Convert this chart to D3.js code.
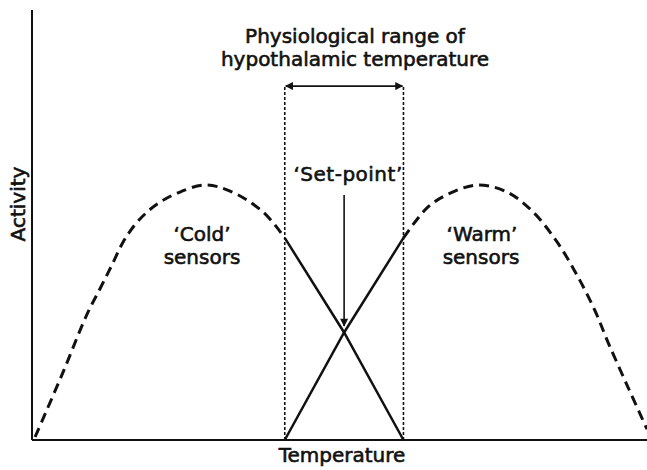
<!DOCTYPE html>
<html>
<head>
<meta charset="utf-8">
<script src="https://cdn.jsdelivr.net/npm/d3@7"></script>
<style>
  body { margin: 0; background: #fff; }
  text { font-family: "DejaVu Sans", sans-serif; fill: #111; }
</style>
</head>
<body>
<div id="canvas"></div>
<script>
// temperature (0-100, arbitrary) and activity (0-100, arbitrary)
var coldTemp = [0.5, 5.0, 8.9, 11.1, 13.0, 14.8, 16.7, 18.7, 20.8, 23.6, 28.1, 32.2, 37.6, 41.1];
var coldAct = [0.7, 15.6, 29.1, 35.3, 40.7, 46.0, 50.0, 53.0, 55.3, 57.4, 59.3, 57.9, 53.0, 47.0];

var warmTemp = [60.4, 64.4, 68.0, 72.5, 77.2, 81.5, 85.4, 88.6, 91.5, 93.7, 96.9, 100];
var warmAct = [47.0, 54.2, 57.4, 59.3, 57.7, 53.0, 46.0, 38.4, 30.2, 22.6, 12.3, 2.5];

// solid parts inside the physiological range
var rangeTemp = [41.1, 50.75, 60.4];
var coldSolidAct = [47.0, 25.0, 0];
var warmSolidAct = [0, 25.0, 47.0];

var rangeTop = 82.3;
var setPoint = [50.75, 57, 26.5]; // temp, arrow start, arrow end

var titleLines = ['Physiological range of', 'hypothalamic temperature'];
var xLabel = 'Temperature';
var yLabel = 'Activity';

var width = 647, height = 470;

var svg = d3.select('#canvas').append('svg')
    .attr('width', width)
    .attr('height', height);

var x = d3.scaleLinear().domain([0, 100]).range([32, 647]);
var y = d3.scaleLinear().domain([0, 100]).range([440, 10]);

// arrow markers
var defs = svg.append('defs');
defs.append('marker')
    .attr('id', 'head')
    .attr('viewBox', '0 0 10 10')
    .attr('refX', 9).attr('refY', 5)
    .attr('markerWidth', 12).attr('markerHeight', 8)
    .attr('markerUnits', 'userSpaceOnUse')
    .attr('orient', 'auto-start-reverse')
    .append('path')
    .attr('d', 'M0,0 L10,5 L0,10 Z')
    .attr('fill', '#111');

// axes (no ticks)
svg.append('line')
    .attr('x1', x(0)).attr('x2', x(0))
    .attr('y1', y(0)).attr('y2', y(100))
    .attr('stroke', '#111').attr('stroke-width', 2);
svg.append('line')
    .attr('x1', x(0)).attr('x2', x(100))
    .attr('y1', y(0)).attr('y2', y(0))
    .attr('stroke', '#111').attr('stroke-width', 2);

var line = d3.line()
    .x(function(d) { return x(d[0]); })
    .y(function(d) { return y(d[1]); });

var smooth = d3.line()
    .x(function(d) { return x(d[0]); })
    .y(function(d) { return y(d[1]); })
    .curve(d3.curveCatmullRom.alpha(0.5));

// dashed sensor curves outside the range
svg.append('path')
    .attr('d', smooth(d3.zip(coldTemp, coldAct)))
    .attr('fill', 'none').attr('stroke', '#111')
    .attr('stroke-width', 3).attr('stroke-dasharray', '10,6');
svg.append('path')
    .attr('d', smooth(d3.zip(warmTemp, warmAct)))
    .attr('fill', 'none').attr('stroke', '#111')
    .attr('stroke-width', 3).attr('stroke-dasharray', '10,6');

// solid lines inside the range
svg.append('path')
    .attr('d', line(d3.zip(rangeTemp, coldSolidAct)))
    .attr('fill', 'none').attr('stroke', '#111').attr('stroke-width', 2.5);
svg.append('path')
    .attr('d', line(d3.zip(rangeTemp, warmSolidAct)))
    .attr('fill', 'none').attr('stroke', '#111').attr('stroke-width', 2.5);

// range boundaries
[rangeTemp[0], rangeTemp[2]].forEach(function(t) {
    svg.append('line')
        .attr('x1', x(t)).attr('x2', x(t))
        .attr('y1', y(0)).attr('y2', y(rangeTop))
        .attr('stroke', '#111').attr('stroke-width', 1.6)
        .attr('stroke-dasharray', '3,2');
});

// double headed range arrow
svg.append('line')
    .attr('x1', x(rangeTemp[0]) + 1).attr('x2', x(rangeTemp[2]) - 1)
    .attr('y1', y(rangeTop)).attr('y2', y(rangeTop))
    .attr('stroke', '#111').attr('stroke-width', 1.6)
    .attr('marker-start', 'url(#head)')
    .attr('marker-end', 'url(#head)');

// set-point arrow
svg.append('line')
    .attr('x1', x(setPoint[0])).attr('x2', x(setPoint[0]))
    .attr('y1', y(setPoint[1])).attr('y2', y(setPoint[2]))
    .attr('stroke', '#111').attr('stroke-width', 1.6)
    .attr('marker-end', 'url(#head)');

// texts
var textStyle = function(sel) {
    sel.attr('font-size', 20)
        .attr('stroke', '#111').attr('stroke-width', 0.6);
};

svg.selectAll('.title')
    .data(titleLines)
    .enter()
    .append('text')
    .attr('class', 'title')
    .attr('x', 355)
    .attr('y', function(d, i) { return 43 + i * 23; })
    .attr('text-anchor', 'middle')
    .text(function(d) { return d; })
    .call(textStyle);

svg.append('text')
    .attr('x', x(setPoint[0]) + 4).attr('y', 181)
    .attr('text-anchor', 'middle')
    .attr('letter-spacing', 0.5)
    .text('\u2018Set-point\u2019')
    .call(textStyle);

svg.append('text')
    .attr('x', 202).attr('y', 241)
    .attr('text-anchor', 'middle')
    .text('\u2018Cold\u2019')
    .call(textStyle);
svg.append('text')
    .attr('x', 202).attr('y', 264)
    .attr('text-anchor', 'middle')
    .text('sensors')
    .call(textStyle);

svg.append('text')
    .attr('x', 482).attr('y', 241)
    .attr('text-anchor', 'middle')
    .text('\u2018Warm\u2019')
    .call(textStyle);
svg.append('text')
    .attr('x', 481).attr('y', 264)
    .attr('text-anchor', 'middle')
    .text('sensors')
    .call(textStyle);

svg.append('text')
    .attr('x', 342).attr('y', 462)
    .attr('text-anchor', 'middle')
    .text(xLabel)
    .call(textStyle);

svg.append('text')
    .attr('transform', 'translate(25, 204) rotate(-90)')
    .attr('text-anchor', 'middle')
    .text(yLabel)
    .call(textStyle);
</script>
</body>
</html>
